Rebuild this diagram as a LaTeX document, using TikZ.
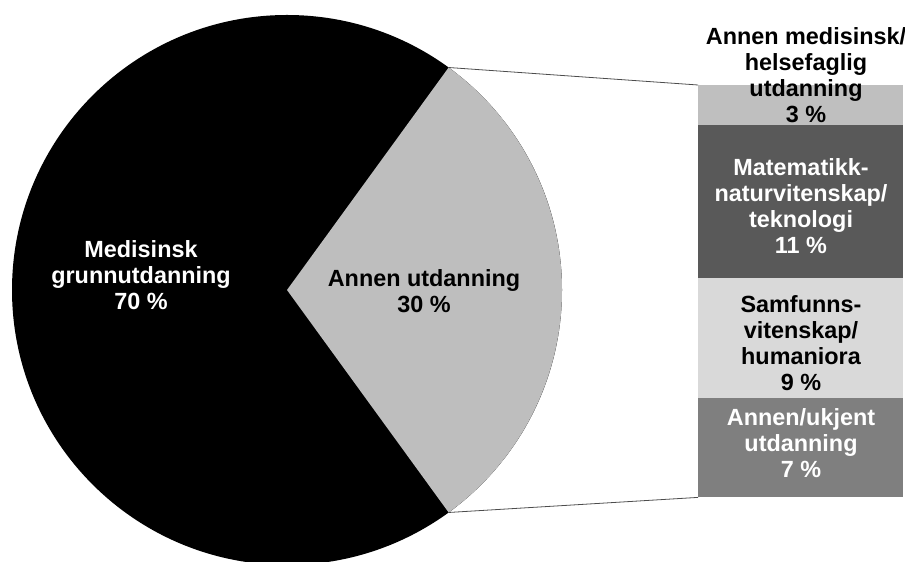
\documentclass[tikz,border=0pt]{standalone}
\usepackage{fontspec}
\setmainfont{Liberation Sans}
\usetikzlibrary{calc}
\definecolor{pieGray}{HTML}{BEBEBE}
\definecolor{barA}{HTML}{BFBFBF}
\definecolor{barB}{HTML}{595959}
\definecolor{barC}{HTML}{D9D9D9}
\definecolor{barD}{HTML}{7F7F7F}
\begin{document}
\begin{tikzpicture}[x=1pt,y=1pt,
  lbl/.style={font=\bfseries\fontsize{23.4}{26}\selectfont, align=center, inner sep=0pt},
  bar/.style={draw=none, minimum width=205pt, inner sep=0pt, anchor=north west},
  conn/.style={draw=black!70, line width=0.8pt}]
\useasboundingbox (0,0) rectangle (905,562);
\coordinate (c) at (287,272);
\fill[black] (c) circle[radius=275pt];
\coordinate (p1) at ($(c)+(54:275pt)$);
\coordinate (p2) at ($(c)+(-54:275pt)$);
\fill[pieGray] (c) -- (p2) arc[start angle=-54,end angle=54,radius=275pt] -- cycle;
\node[bar, fill=barA, minimum height=40pt] (b1) at (698,477) {};
\node[bar, fill=barB, minimum height=153pt] (b2) at (698,437) {};
\node[bar, fill=barC, minimum height=120pt] (b3) at (698,284) {};
\node[bar, fill=barD, minimum height=99pt] (b4) at (698,164) {};
\draw[conn] (p1) -- (b1.north west);
\draw[conn] (p2) -- (b4.south west);
\node[lbl, text=white] (t1) at (141,287) {Medisinsk\\grunnutdanning\\70 \%};
\node[lbl] (t2) at (424,270.5) {Annen utdanning\\30 \%};
\node[lbl] (t3) at (806,487) {Annen medisinsk/\\helsefaglig\\utdanning\\3 \%};
\node[lbl, text=white] (t4) at (801,356) {Matematikk-\\naturvitenskap/\\teknologi\\11 \%};
\node[lbl] (t5) at (801,219) {Samfunns-\\vitenskap/\\humaniora\\9 \%};
\node[lbl, text=white] (t6) at (801,119) {Annen/ukjent\\utdanning\\7 \%};
\end{tikzpicture}
\end{document}
